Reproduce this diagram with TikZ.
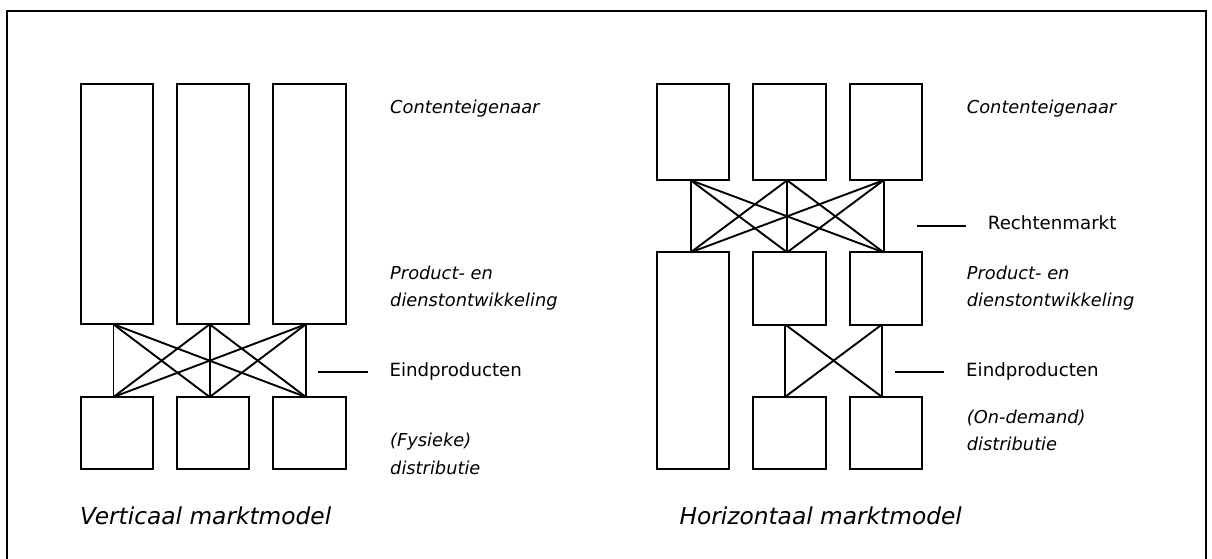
\documentclass[tikz,border=0pt]{standalone}
\usepackage{fontspec}
\setmainfont{DejaVu Sans}
\usetikzlibrary{calc}
\begin{document}
\begin{tikzpicture}[x=1pt,y=-1pt,
 box/.style={draw,line width=2pt,inner sep=0pt,outer sep=0pt,anchor=north west,minimum width=72.5pt},
 link/.style={line width=1.9pt},
 tick/.style={line width=1.9pt},
 lbl/.style={anchor=base west,inner sep=0pt,font=\fontsize{17.8}{21}\selectfont\itshape},
 ulbl/.style={anchor=base west,inner sep=0pt,font=\fontsize{18.2}{21}\selectfont},
 ttl/.style={anchor=base west,inner sep=0pt,font=\fontsize{23.3}{28}\selectfont\itshape}]
\useasboundingbox (0,0) rectangle (1212,558);
% frame
\coordinate (fa) at (7,600);
\coordinate (fb) at (7,11);
\coordinate (fc) at (1206,11);
\coordinate (fd) at (1206,600);
\draw[line width=2.2pt] (fa) -- (fb) -- (fc) -- (fd);

% ---------- vertical model ----------
\node[box,minimum height=240.3pt] (v1) at (80.7,84) {};
\node[box,minimum height=240.3pt] (v2) at (176.9,84) {};
\node[box,minimum height=240.3pt] (v3) at (273.1,84) {};
\node[box,minimum height=72pt] (u1) at (80.7,397) {};
\node[box,minimum height=72pt] (u2) at (176.9,397) {};
\node[box,minimum height=72pt] (u3) at (273.1,397) {};
\foreach \i in {1,2,3}{
  \coordinate (vb\i) at ($(v\i.south)+(-3.5,0)$);
  \coordinate (ut\i) at ($(u\i.north)+(-3.5,0)$);
}
\foreach \i in {1,2,3}{
  \foreach \j in {1,2,3}{
    \draw[link] (vb\i) -- (ut\j);
  }
}

% ---------- horizontal model ----------
\node[box,minimum height=96.3pt] (h1) at (656.7,84) {};
\node[box,minimum height=96.3pt] (h2) at (753.1,84) {};
\node[box,minimum height=96.3pt] (h3) at (849.5,84) {};
\node[box,minimum height=216.4pt] (m1) at (656.7,252.3) {};
\node[box,minimum height=72.3pt] (m2) at (753.1,252.3) {};
\node[box,minimum height=72.3pt] (m3) at (849.5,252.3) {};
\node[box,minimum height=72pt] (d2) at (753.1,396.7) {};
\node[box,minimum height=72pt] (d3) at (849.5,396.7) {};
\foreach \i in {1,2,3}{
  \coordinate (hb\i) at ($(h\i.south)+(-2.2,0)$);
  \coordinate (mt\i) at ($(m\i.north)+(-2.2,0)$);
}
\foreach \i in {2,3}{
  \coordinate (mb\i) at ($(m\i.south)+(-4,0)$);
  \coordinate (dt\i) at ($(d\i.north)+(-4,0)$);
}
\foreach \i in {1,2,3}{
  \foreach \j in {1,2,3}{
    \draw[link] (hb\i) -- (mt\j);
  }
}
\foreach \i in {2,3}{
  \foreach \j in {2,3}{
    \draw[link] (mb\i) -- (dt\j);
  }
}

% ---------- ticks ----------
\coordinate (t1a) at (318,372.3);   \coordinate (t1b) at (367.7,372.3);
\coordinate (t2a) at (916.7,226);   \coordinate (t2b) at (966,226);
\coordinate (t3a) at (895,372.3);   \coordinate (t3b) at (944,372.3);
\draw[tick] (t1a) -- (t1b);
\draw[tick] (t2a) -- (t2b);
\draw[tick] (t3a) -- (t3b);

% ---------- labels left ----------
\node[lbl] (lc) at (390,113.3) {Contenteigenaar};
\node[lbl] (lp1) at (390,279.3) {Product- en};
\node[lbl] (lp2) at (390,306) {dienstontwikkeling};
\node[ulbl] (le) at (389.3,376) {Eindproducten};
\node[lbl] (ld1) at (390,446.7) {(Fysieke)};
\node[lbl] (ld2) at (390,474.7) {distributie};
\node[ttl] (lt) at (80,524) {Verticaal marktmodel};

% ---------- labels right ----------
\node[lbl] (rc) at (966.7,113.3) {Contenteigenaar};
\node[ulbl] (rr) at (987.7,229.3) {Rechtenmarkt};
\node[lbl] (rp1) at (966.7,279.3) {Product- en};
\node[lbl] (rp2) at (966.7,306) {dienstontwikkeling};
\node[ulbl] (re) at (966,376) {Eindproducten};
\node[lbl] (rd1) at (966.7,423.3) {(On-demand)};
\node[lbl] (rd2) at (966.7,450.7) {distributie};
\node[ttl] (rt) at (679.3,524) {Horizontaal marktmodel};
\end{tikzpicture}
\end{document}
